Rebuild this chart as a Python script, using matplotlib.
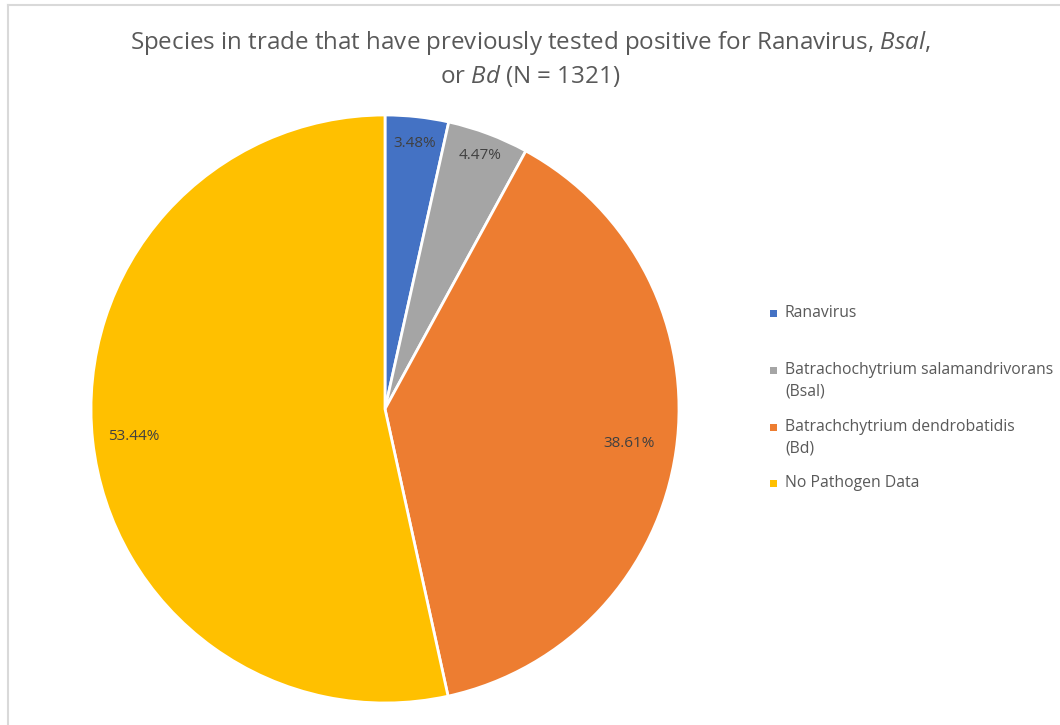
import matplotlib
matplotlib.use("Agg")
import matplotlib.pyplot as plt
from matplotlib.patches import Rectangle
from matplotlib.lines import Line2D
import numpy as np

# Share of traded species by pathogen record (N = 1321)
categories = [
    "Ranavirus",
    "Batrachochytrium salamandrivorans\n(Bsal)",
    "Batrachchytrium dendrobatidis\n(Bd)",
    "No Pathogen Data",
]
shares = [3.48, 4.47, 38.61, 53.44]
colors = ["#4472C4", "#A5A5A5", "#ED7D31", "#FFC000"]
title_lines = [
    r"Species in trade that have previously tested positive for Ranavirus, $\mathit{Bsal}$,",
    r"or $\mathit{Bd}$ (N = 1321)",
]

FONT = "Open Sans"
TEXT_GRAY = "#595959"
LABEL_GRAY = "#404040"

# italic runs in the title come from the same family via mathtext
plt.rcParams["mathtext.fontset"] = "custom"
plt.rcParams["mathtext.rm"] = FONT
plt.rcParams["mathtext.it"] = FONT + ":italic"

W, H = 1060, 725
fig = plt.figure(figsize=(W / 100, H / 100), dpi=100)
fig.patch.set_facecolor("white")

# pie axes: centre (385, 409) px, radius 294 px
cx, cy, r = 385, 409, 294
ax = fig.add_axes([(cx - r) / W, (H - cy - r) / H, 2 * r / W, 2 * r / H])
wedges, _ = ax.pie(
    shares,
    colors=colors,
    startangle=90,
    counterclock=False,
    wedgeprops=dict(edgecolor="white", linewidth=2),
)
ax.set_xlim(-1, 1)
ax.set_ylim(-1, 1)
ax.set_aspect("equal")
ax.axis("off")

# percentage labels placed along each wedge's mid-angle
label_radius = [0.91, 0.92, 0.84, 0.86]
for w, val, rad in zip(wedges, shares, label_radius):
    mid = np.deg2rad((w.theta1 + w.theta2) / 2)
    ax.text(rad * np.cos(mid), rad * np.sin(mid), f"{val:.2f}%",
            ha="center", va="center", fontsize=11, color=LABEL_GRAY,
            family=FONT)

# two-line centred title
baselines = [49, 83]
for line, base in zip(title_lines, baselines):
    fig.text(0.5, 1 - base / H, line, fontsize=17.4, color=TEXT_GRAY,
             family=FONT, ha="center", va="baseline")

# legend drawn beside the pie
legend_y = [313, 370, 427, 483]
line_gap = 21.5
for label, col, yc in zip(categories, colors, legend_y):
    fig.patches.append(Rectangle((770 / W, 1 - (yc + 3.5) / H), 7 / W, 7 / H,
                                 transform=fig.transFigure, facecolor=col,
                                 edgecolor="none"))
    for i, part in enumerate(label.split("\n")):
        fig.text(785 / W, 1 - (yc + i * line_gap) / H, part, fontsize=11.3,
                 color=TEXT_GRAY, family=FONT, ha="left", va="center")

# light chart-area frame on the top and left edges
fig.add_artist(Line2D([7.5 / W, 1], [1 - 4.5 / H, 1 - 4.5 / H],
                      transform=fig.transFigure, color="#D9D9D9", lw=1.5))
fig.add_artist(Line2D([7.5 / W, 7.5 / W], [0, 1 - 4.5 / H],
                      transform=fig.transFigure, color="#D9D9D9", lw=1.5))

fig.savefig("out.png", dpi=100, facecolor="white")
